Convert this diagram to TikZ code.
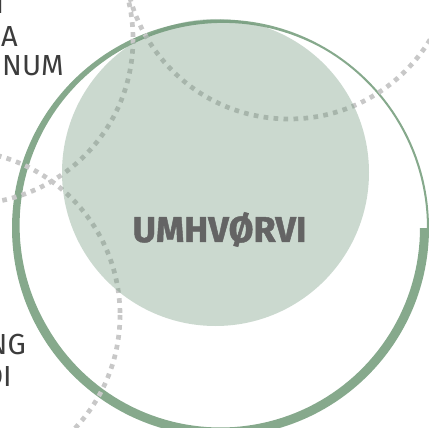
\documentclass[tikz,border=0pt]{standalone}
\usepackage{fontspec}
\setmainfont{Fira Sans}
\definecolor{ringgreen}{RGB}{134,169,140}
\definecolor{fillgreen}{RGB}{111,150,122}
\definecolor{dotgray}{RGB}{200,200,200}
\definecolor{textgray}{RGB}{100,100,100}
\definecolor{sidegray}{RGB}{60,60,60}
\begin{document}
\begin{tikzpicture}[x=1pt,y=-1pt,
  dots/.style={draw=dotgray,line width=4.7pt,dash pattern=on 4.7pt off 5.3pt},
  side/.style={text=sidegray,font=\fontsize{29}{29}\selectfont,inner sep=0pt},
  declare function={wid(\t)=max(2,min(9,9-7*(\t-150)/150));}]
\useasboundingbox (0,0) rectangle (429,428);
\clip (0,0) rectangle (429,428);

% ring
\begin{scope}[shift={(220.5,228)}]
\fill[ringgreen] (0:208.5) arc[start angle=0,end angle=360,radius=208.5]
   -- plot[domain=360:0,samples=181] (\x:{208.5-wid(\x)}) -- cycle;
\end{scope}

% other circles
\draw[dots] (289,-46) circle (165);
\draw[dots] (-32,39) circle (165);
\draw[dots] (-45,315) circle (165);

% centre
\fill[fillgreen,fill opacity=.36] (215.5,172.5) circle (153.5);
\node[text=textgray,font=\bfseries\addfontfeatures{FakeBold=1.3}\fontsize{36}{36}\selectfont] (umhv) at (219.5,229.5) {UMHVØRVI};

\node[side,anchor=base east] (l0) at (4.5,14) {I};
\node[side,anchor=base east] (l1) at (18,47) {A};
\node[side,anchor=base east] (l2) at (64,76) {NUM};
\node[side,anchor=base east] (l3) at (26,354) {NG};
\node[side,anchor=base east] (l4) at (12,386) {DI};
\end{tikzpicture}
\end{document}
